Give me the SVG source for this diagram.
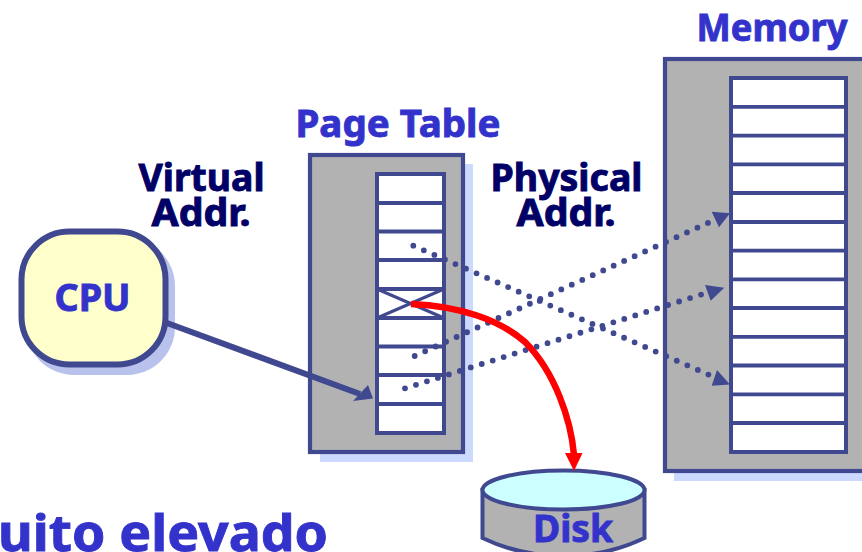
<svg xmlns="http://www.w3.org/2000/svg" width="862" height="552" viewBox="0 0 862 552">
<style>
.t{font-family:"Noto Sans","DejaVu Sans",sans-serif;font-weight:700;stroke-width:.9;paint-order:stroke}
.b{fill:#3333cc;stroke:#3333cc}
.d{fill:#000066;stroke:#000066}
.s{fill:none;stroke:#404890;stroke-width:3.800}
.o{fill:#b2b2b2;stroke:#404890;stroke-width:4.200}
.w{fill:#fff;stroke:#404890;stroke-width:4}
.sh{fill:#ccd9ff}
.dot{fill:none;stroke:#404890;stroke-width:5.800;stroke-linecap:round;stroke-dasharray:0 11.500}
.hd{fill:#404890}
</style>
<rect width="862" height="552" fill="#fff"/>
<g id="title-page-table"><text class="t b" x="398" y="136.500" font-size="37" text-anchor="middle" textLength="205" lengthAdjust="spacingAndGlyphs">Page Table</text></g>
<g id="title-memory"><text class="t b" x="772" y="41" font-size="37" text-anchor="middle" textLength="151" lengthAdjust="spacingAndGlyphs">Memory</text></g>
<g id="label-virtual"><text class="t d" x="201.500" y="191" font-size="37" text-anchor="middle" textLength="126" lengthAdjust="spacingAndGlyphs">Virtual</text><text class="t d" x="201" y="225.500" font-size="37" text-anchor="middle" textLength="99" lengthAdjust="spacingAndGlyphs">Addr.</text></g>
<g id="label-physical"><text class="t d" x="566.500" y="191" font-size="37" text-anchor="middle" textLength="152" lengthAdjust="spacingAndGlyphs">Physical</text><text class="t d" x="566" y="225.500" font-size="37" text-anchor="middle" textLength="99" lengthAdjust="spacingAndGlyphs">Addr.</text></g>
<g id="caption"><text class="t b" x="-2" y="551" font-size="50" textLength="330" lengthAdjust="spacingAndGlyphs">uito elevado</text></g>
<g id="cpu">
<rect x="26" y="238" width="149" height="137" rx="48" fill="#b8c2ec"/>
<rect x="21.500" y="231.500" width="144" height="133" rx="48" fill="#ffffcc" stroke="#404890" stroke-width="6"/>
<text class="t b" x="92.500" y="311" font-size="37" text-anchor="middle" textLength="76" lengthAdjust="spacingAndGlyphs">CPU</text>
</g>
<g id="page-table">
<rect class="sh" x="320" y="164" width="153" height="298"/>
<rect class="o" x="310" y="155" width="153" height="297"/>
<rect class="w" x="377" y="174" width="67" height="259"/>
<path class="s" d="M375 203H446M375 231.500H446M375 260H446M375 289H446M375 318H446M375 346.500H446M375 375H446M375 404H446"/>
<path class="s" style="stroke-width:3" d="M377 289L444 318M444 289L377 318"/>
</g>
<g id="memory">
<rect class="sh" x="674" y="68" width="200" height="413"/>
<rect class="o" x="665" y="59" width="209" height="412"/>
<rect class="w" x="731" y="78" width="115" height="374"/>
<path class="s" d="M729 106.800H848M729 135.600H848M729 164.300H848M729 193H848M729 222H848M729 250.700H848M729 279.400H848M729 308H848M729 336.800H848M729 365.500H848M729 394.300H848M729 423H848"/>
</g>
<g id="disk">
<path d="M482.500 490V538Q520 556 563.500 556Q607 556 644.500 538V490Z" fill="#b2b2b2" stroke="#404890" stroke-width="4"/>
<ellipse cx="563.500" cy="490" rx="81" ry="19.500" fill="#ccffff" stroke="#404890" stroke-width="4"/>
<text class="t b" x="573" y="542" font-size="37" text-anchor="middle" textLength="80" lengthAdjust="spacingAndGlyphs">Disk</text>
</g>
<g id="connectors">
<path d="M167 323L360 394" fill="none" stroke="#404890" stroke-width="6"/>
<path class="hd" d="M373 398.500L353 401L368 385Z"/>
<path class="dot" d="M413.300 245.700L711 375.700"/>
<path class="hd" d="M730 384.500L711.700 385.700L717 370Z"/>
<path class="dot" d="M414.700 356L710 222"/>
<path class="hd" d="M730 213.300L711.700 211.700L719 227.300Z"/>
<path class="dot" d="M405 388.300L706 293"/>
<path class="hd" d="M724.300 287.700L705 285L710.700 300.700Z"/>
<path d="M411 304C460 306 500 320 525 342C555 372 571 420 574 455" fill="none" stroke="#ff0000" stroke-width="6.500"/>
<path d="M574 471L565 453H582.500Z" fill="#ff0000"/>
</g>
</svg>
